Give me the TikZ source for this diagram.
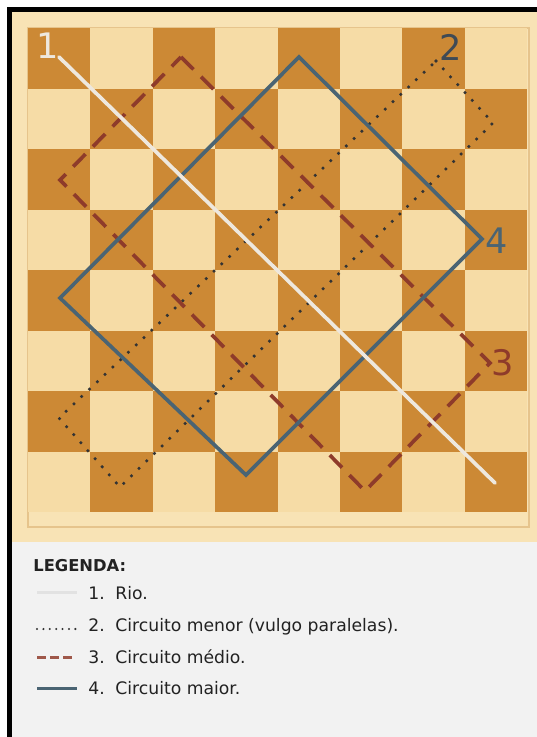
\documentclass[tikz,border=0pt]{standalone}
\usepackage{fontspec}
\setmainfont{DejaVu Sans}
\usepackage{xcolor}
\definecolor{darksq}{HTML}{CC8935}
\definecolor{lightsq}{HTML}{F6DCA6}
\definecolor{framewood}{HTML}{F8E3B5}
\definecolor{frameline}{HTML}{E6C48C}
\definecolor{legendbg}{HTML}{F2F2F2}
\definecolor{riocol}{HTML}{EEE8DE}
\definecolor{rioswatch}{HTML}{E2E2E2}
\definecolor{maiorcol}{HTML}{4A6473}
\definecolor{mediocol}{HTML}{8E3B2A}
\definecolor{menorcol}{HTML}{333333}
\definecolor{lab2col}{HTML}{3F4A55}
\definecolor{ink}{HTML}{222222}
\tikzset{
  rio/.style={draw=riocol,line width=2.1pt,line cap=round},
  maior/.style={draw=maiorcol,line width=2.1pt},
  medio/.style={draw=mediocol,line width=2.1pt,dash pattern=on 10pt off 6pt},
  menor/.style={draw=menorcol,line width=2pt,line cap=round,
                dash pattern=on 0pt off 6.1pt},
  boardlabel/.style={font=\fontsize{20}{20}\selectfont,inner sep=0pt},
  legtitle/.style={font=\fontsize{9.3}{11}\selectfont\bfseries,inner sep=0pt,
                   text=ink,anchor=base west},
  legtext/.style={font=\fontsize{9.8}{12}\selectfont,inner sep=0pt,
                  text=ink,anchor=base west}
}
\begin{document}
\begin{tikzpicture}[x=0.02cm,y=-0.02cm]
    \path[use as bounding box] (0,0) rectangle (537,737);
    % wooden frame, legend panel and black edge
    \fill[framewood] (12,12) rectangle (537,542);
    \fill[legendbg] (12,542) rectangle (537,737);
    \fill[black] (7,7) rectangle (12,737);
    \fill[black] (7,7) rectangle (537,12);
    \draw[frameline,line width=0.6pt] (28,28) rectangle (529,527);
    % board squares
    \fill[lightsq] (28,28) rectangle (527.2,512);
    \foreach \r in {0,...,7}
      \foreach \c in {0,2,4,6}
        \fill[darksq] ({28+62.4*(\c+mod(\r,2))},{28+60.5*\r}) rectangle ++(62.4,60.5);
    % corners of the four routes
    \coordinate (rioA) at (59,57);
    \coordinate (rioB) at (495,483);
    \coordinate (menorN) at (436,61);
    \coordinate (menorE) at (493,123);
    \coordinate (menorS) at (120,487);
    \coordinate (menorW) at (59,418);
    \coordinate (medioN) at (181,57);
    \coordinate (medioE) at (490,363);
    \coordinate (medioS) at (365,491);
    \coordinate (medioW) at (60,180);
    \coordinate (maiorN) at (299,57);
    \coordinate (maiorE) at (482,239);
    \coordinate (maiorS) at (246,475);
    \coordinate (maiorW) at (60,298);
    \draw[menor] (menorN) -- (menorE) -- (menorS) -- (menorW) -- cycle;
    \draw[medio] (medioN) -- (medioE) -- (medioS) -- (medioW) -- cycle;
    \draw[maior] (maiorN) -- (maiorE) -- (maiorS) -- (maiorW) -- cycle;
    \draw[rio] (rioA) -- (rioB);
    \node[boardlabel,text=riocol] (lab1) at (48,46) {1};
    \node[boardlabel,text=lab2col] (lab2) at (451,47) {2};
    \node[boardlabel,text=mediocol] (lab3) at (503,363) {3};
    \node[boardlabel,text=maiorcol] (lab4) at (497,241) {4};
    % legend
    \node[legtitle] (legend) at (33,571) {LEGENDA:};
    \draw[draw=rioswatch,line width=1.7pt] (37,592) -- (77,592);
    \draw[draw=menorcol,line width=1.3pt,line cap=round,
          dash pattern=on 0pt off 3.64pt] (37,629) -- (76,629);
    \draw[draw=mediocol!85,line width=1.7pt,dash pattern=on 5pt off 2.5pt]
      (37,657) -- (72,657);
    \draw[draw=maiorcol,line width=1.7pt] (37,688) -- (77,688);
    \node[legtext] (num1) at (88,599) {1.};
    \node[legtext] (txt1) at (115,599) {Rio.};
    \node[legtext] (num2) at (88,631) {2.};
    \node[legtext] (txt2) at (115,631) {Circuito menor (vulgo paralelas).};
    \node[legtext] (num3) at (88,663) {3.};
    \node[legtext] (txt3) at (115,663) {Circuito médio.};
    \node[legtext] (num4) at (88,694) {4.};
    \node[legtext] (txt4) at (115,694) {Circuito maior.};
  \end{tikzpicture}
\end{document}
